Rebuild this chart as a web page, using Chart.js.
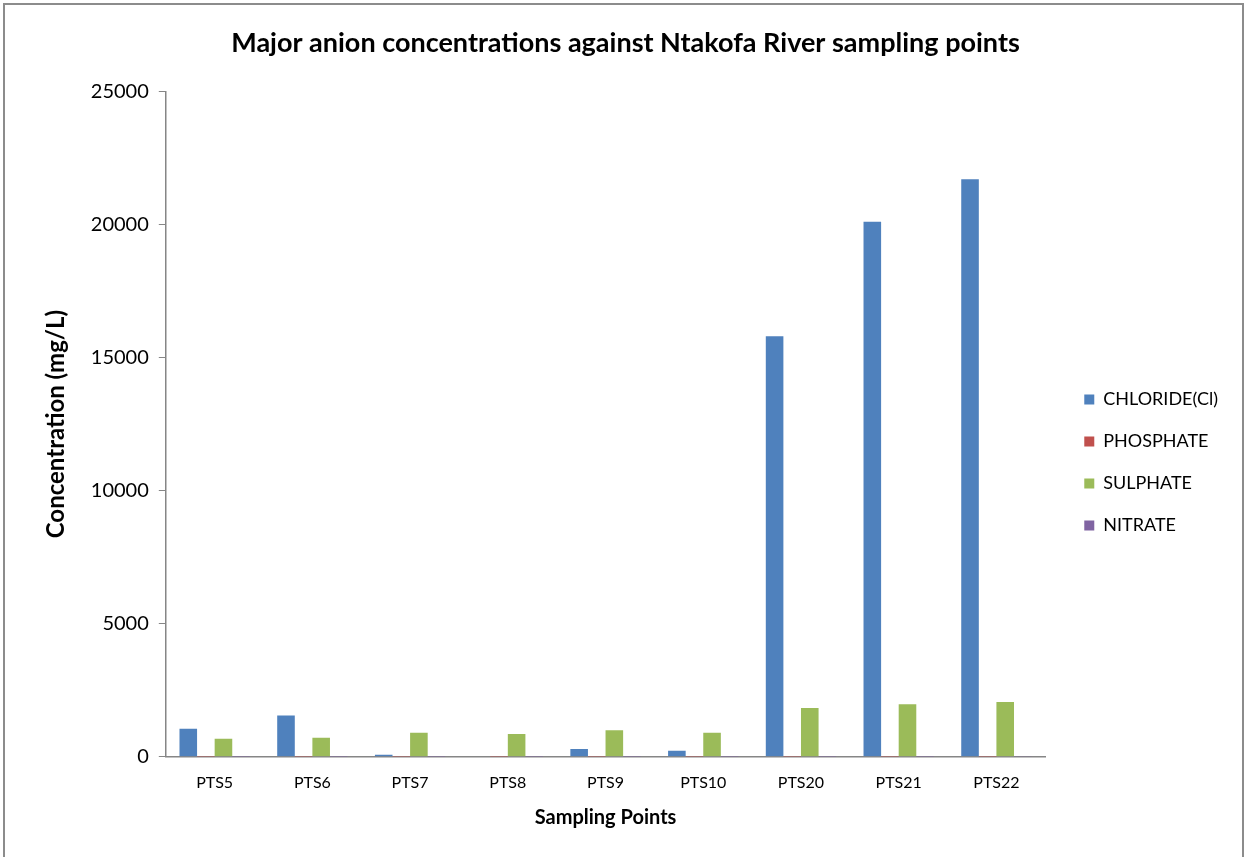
<!DOCTYPE html>
<html>
<head>
<meta charset="utf-8">
<script src="https://cdn.jsdelivr.net/npm/chart.js@4"></script>
<style>
  html, body { margin: 0; padding: 0; background: #fff; }
  #wrap { position: absolute; left: 3px; top: 3px; width: 1241px; height: 860px; border: 2px solid #8c8c8c; box-sizing: border-box; }
  canvas { display: block; }
</style>
</head>
<body>
<div id="wrap"><canvas id="myChart"></canvas></div>
<script>
// sampling points and anion values (mg/L)
var samplingPoints = ["PTS5", "PTS6", "PTS7", "PTS8", "PTS9", "PTS10", "PTS20", "PTS21", "PTS22"];
var chloride = [1050, 1550, 80, 0, 290, 230, 15800, 20100, 21700];
var phosphate = [2, 3, 2, 1, 2, 2, 4, 5, 5];
var sulphate = [680, 720, 900, 860, 1000, 900, 1830, 1970, 2060];
var nitrate = [3, 4, 3, 2, 3, 3, 6, 6, 7];
var yTicks = [0, 5000, 10000, 15000, 20000, 25000];

var font = "Lato, 'Open Sans', sans-serif";

// nudge the legend a bit right and down, like the original
var legendShift = {
    id: "legendShift",
    afterLayout: function (chart) {
        var lg = chart.legend;
        lg.left += 15; lg.right += 15;
        lg.top += 38; lg.bottom += 38;
    },
};

var ctx = document.getElementById("myChart").getContext("2d");
var myChart = new Chart(ctx, {
    type: "bar",
    data: {
        labels: samplingPoints,
        datasets: [
            { label: "CHLORIDE(Cl)", data: chloride, backgroundColor: "#4f81bd" },
            { label: "PHOSPHATE", data: phosphate, backgroundColor: "#c0504d" },
            { label: "SULPHATE", data: sulphate, backgroundColor: "#9bbb59" },
            { label: "NITRATE", data: nitrate, backgroundColor: "#8064a2" },
        ],
    },
    plugins: [legendShift],
    options: {
        responsive: true,
        maintainAspectRatio: false,
        animation: false,
        layout: { padding: { left: 33, right: 29, top: 10, bottom: 27 } },
        datasets: { bar: { categoryPercentage: 0.72, barPercentage: 1.0 } },
        plugins: {
            title: {
                display: true,
                text: "Major anion concentrations against Ntakofa River sampling points",
                color: "#000",
                font: { family: font, size: 27, weight: "bold" },
                padding: { top: 12, bottom: 32 },
            },
            legend: {
                position: "right",
                labels: {
                    color: "#000",
                    font: { family: font, size: 18 },
                    boxWidth: 10,
                    boxHeight: 10,
                    padding: 24,
                },
            },
            tooltip: { enabled: false },
        },
        scales: {
            x: {
                grid: { display: false },
                border: { display: true, color: "#868686", width: 1.5 },
                ticks: { color: "#000", font: { family: font, size: 16 }, padding: 8 },
                title: {
                    display: true,
                    text: "Sampling Points",
                    color: "#000",
                    font: { family: font, size: 20, weight: "bold" },
                    padding: { top: 6, bottom: 4 },
                },
            },
            y: {
                min: 0,
                max: 25000,
                afterBuildTicks: function (axis) {
                    axis.ticks = yTicks.map(function (v) { return { value: v }; });
                },
                grid: { drawOnChartArea: false, drawTicks: true, tickLength: 7, color: "#868686" },
                border: { display: true, color: "#868686", width: 1.5 },
                ticks: {
                    color: "#000",
                    font: { family: font, size: 20 },
                    padding: 10,
                    callback: function (v) { return String(v); },
                },
                title: {
                    display: true,
                    text: "Concentration (mg/L)",
                    color: "#000",
                    font: { family: font, size: 24, weight: "bold" },
                    padding: { bottom: 10 },
                },
            },
        },
    },
});
</script>
</body>
</html>
